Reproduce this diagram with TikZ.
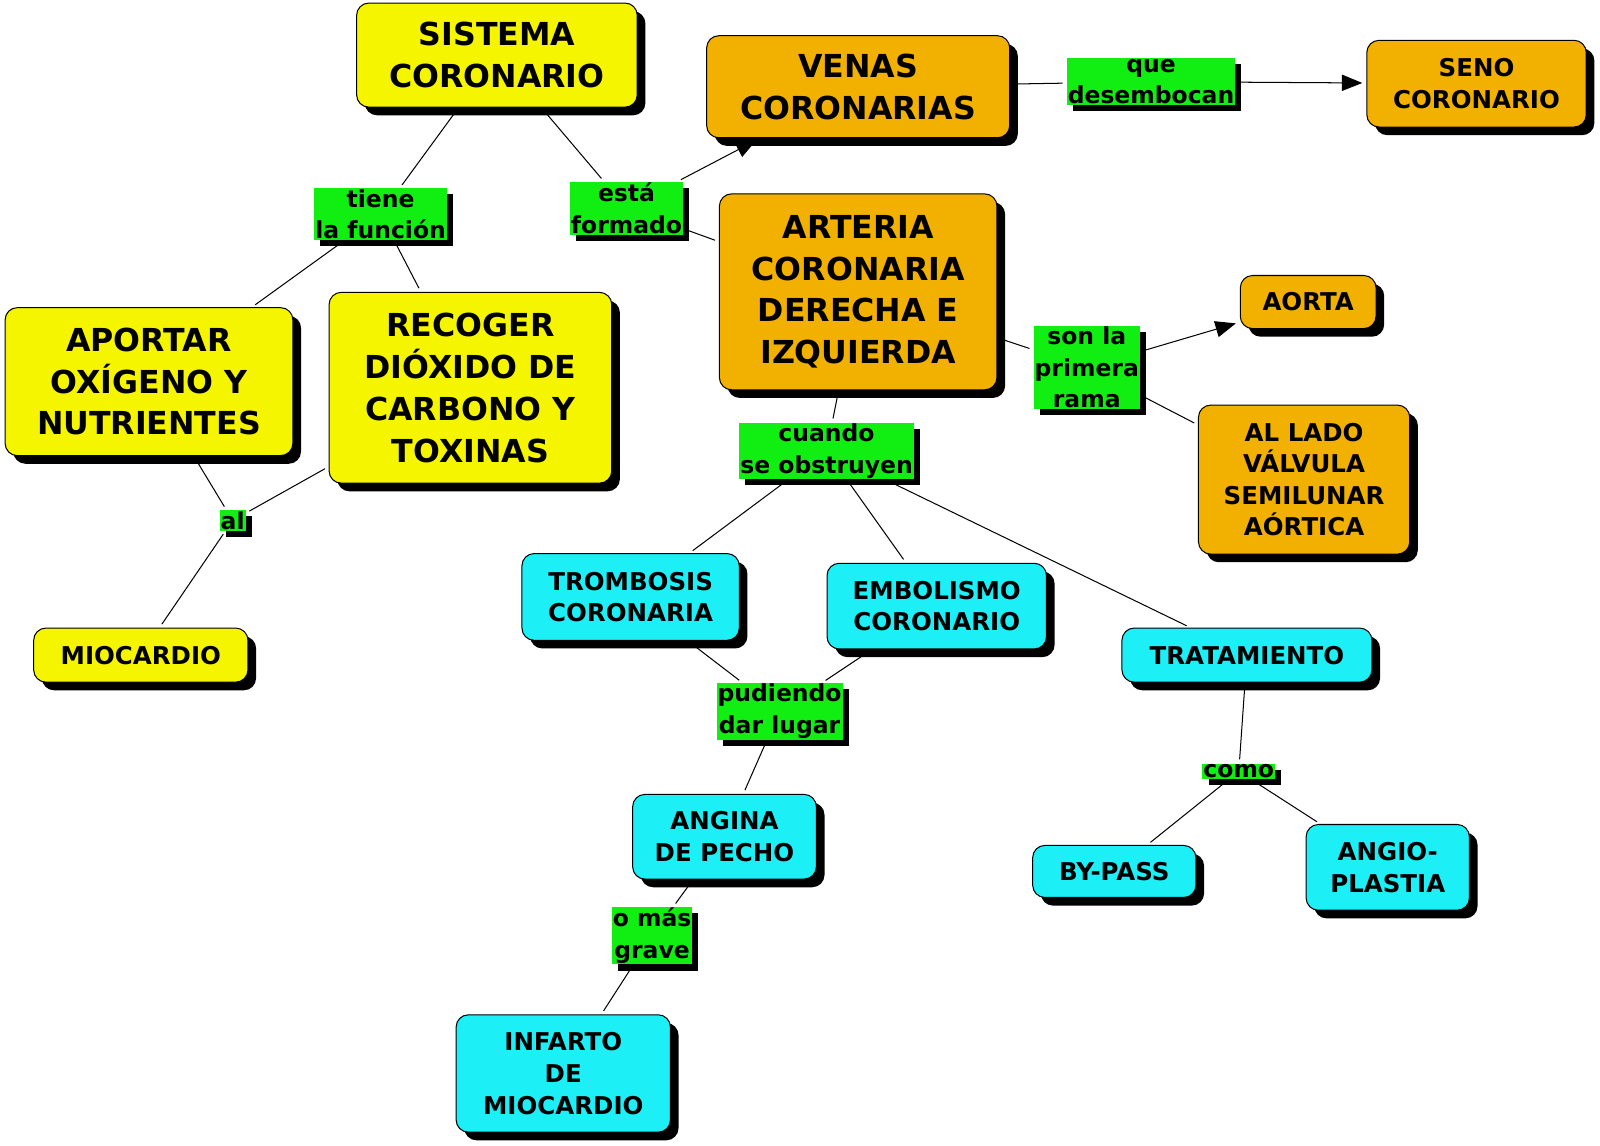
\documentclass[tikz,border=0pt]{standalone}
\usepackage{fontspec}
\setmainfont{DejaVu Sans}
\usetikzlibrary{shadows,arrows.meta}
\definecolor{cy}{HTML}{F5F500}
\definecolor{co}{HTML}{F2B100}
\definecolor{cc}{HTML}{1CEFF5}
\definecolor{cg}{HTML}{11EE11}
\tikzset{
 bx/.style={draw=black,line width=1pt,rounded corners=12pt,align=center,inner sep=0pt,
   font=\bfseries,
   drop shadow={shadow xshift=8pt,shadow yshift=-8pt,fill=black,opacity=1}},
 big/.style={font=\fontsize{31}{41}\selectfont\bfseries},
 med/.style={font=\fontsize{24}{31}\selectfont\bfseries},
 lb/.style={fill=cg,inner sep=1pt,align=center,font=\fontsize{23}{31}\selectfont\bfseries,
   drop shadow={shadow xshift=6pt,shadow yshift=-6pt,fill=black,opacity=1}},
 ln/.style={line width=1pt,shorten <=4pt,shorten >=4pt},
 ar/.style={ln,-{Triangle[length=20pt,width=16pt]}},
}
\begin{document}
\begin{tikzpicture}[x=1pt,y=-1pt]
\useasboundingbox[fill=white] (0,0) rectangle (1568,1123);
\node[bx,big,fill=cy,minimum width=275,minimum height=102] (sis) at (487,54) {SISTEMA\\CORONARIO};
\node[bx,big,fill=co,minimum width=297,minimum height=100] (ven) at (841,85) {VENAS\\CORONARIAS};
\node[bx,med,fill=co,minimum width=215,minimum height=85] (sen) at (1447,82) {SENO\\CORONARIO};
\node[bx,big,fill=co,minimum width=272,minimum height=192] (art) at (841,286) {ARTERIA\\CORONARIA\\DERECHA E\\IZQUIERDA};
\node[bx,med,fill=co,minimum width=133,minimum height=52] (aor) at (1282,296) {AORTA};
\node[bx,med,fill=co,minimum width=207,minimum height=146] (lad) at (1278,470) {AL LADO\\VÁLVULA\\SEMILUNAR\\AÓRTICA};
\node[bx,big,fill=cy,minimum width=282,minimum height=145] (apo) at (146,374) {APORTAR\\OXÍGENO Y\\NUTRIENTES};
\node[bx,big,fill=cy,minimum width=277,minimum height=187] (rec) at (461,380) {RECOGER\\DIÓXIDO DE\\CARBONO Y\\TOXINAS};
\node[bx,med,fill=cy,minimum width=210,minimum height=53] (mio) at (138,642) {MIOCARDIO};
\node[bx,med,fill=cc,minimum width=213,minimum height=85] (tro) at (618,585) {TROMBOSIS\\CORONARIA};
\node[bx,med,fill=cc,minimum width=215,minimum height=84] (emb) at (918,594) {EMBOLISMO\\CORONARIO};
\node[bx,med,fill=cc,minimum width=245,minimum height=53] (tra) at (1222,642) {TRATAMIENTO};
\node[bx,med,fill=cc,minimum width=180,minimum height=83] (ang) at (710,820) {ANGINA\\DE PECHO};
\node[bx,med,fill=cc,minimum width=160,minimum height=51] (byp) at (1092,854) {BY-PASS};
\node[bx,med,fill=cc,minimum width=160,minimum height=84] (apl) at (1360,850) {ANGIO-\\PLASTIA};
\node[bx,med,fill=cc,minimum width=210,minimum height=115] (inf) at (552,1052) {INFARTO\\DE\\MIOCARDIO};
\node[lb] (l1) at (373,210) {tiene\\la función};
\node[lb] (l2) at (614,204) {está\\formado};
\node[lb] (l3) at (1128,80) {que\\desembocan};
\node[lb] (l4) at (1065,360) {son la\\primera\\rama};
\node[lb] (l5) at (810,442) {cuando\\se obstruyen};
\node[lb] (l6) at (228,510) {al};
\node[lb] (l7) at (764,697) {pudiendo\\dar lugar};
\node[lb] (l8) at (1214,756) {como};
\node[lb] (l9) at (639,917) {o más\\grave};
\draw[ln] (sis) -- (l1); \draw[ln] (l1) -- (apo); \draw[ln] (l1) -- (rec);
\draw[ln] (sis) -- (l2); \draw[ar] (l2) -- (ven); \draw[ln] (l2) -- (art);
\draw[ln] (ven) -- (l3); \draw[ar] (l3) -- (sen);
\draw[ln] (art) -- (l4); \draw[ar] (l4) -- (aor); \draw[ln] (l4) -- (lad);
\draw[ln] (art) -- (l5); \draw[ln] (l5) -- (tro); \draw[ln] (l5) -- (emb); \draw[ln] (l5) -- (tra);
\draw[ln] (apo) -- (l6); \draw[ln] (rec) -- (l6); \draw[ln] (l6) -- (mio);
\draw[ln] (tro) -- (l7); \draw[ln] (emb) -- (l7); \draw[ln] (l7) -- (ang);
\draw[ln] (tra) -- (l8); \draw[ln] (l8) -- (byp); \draw[ln] (l8) -- (apl);
\draw[ln] (ang) -- (l9); \draw[ln] (l9) -- (inf);
\end{tikzpicture}
\end{document}
